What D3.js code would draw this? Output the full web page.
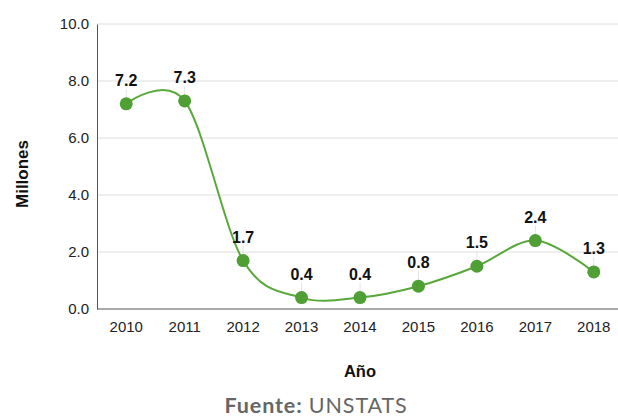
<!DOCTYPE html>
<html><head><meta charset="utf-8">
<script src="https://cdn.jsdelivr.net/npm/d3@7"></script>
<style>body{margin:0;background:#fff}svg{display:block}</style>
</head><body>
<script>
const years = ["2010","2011","2012","2013","2014","2015","2016","2017","2018"];
const values = [7.2, 7.3, 1.7, 0.4, 0.4, 0.8, 1.5, 2.4, 1.3];
const yTicks = [0, 2, 4, 6, 8, 10];

const W = 618, H = 420;
const FONT = "Liberation Sans, Arial, sans-serif";
const svg = d3.select("body").append("svg").attr("width", W).attr("height", H);
const x = d3.scaleBand().domain(years).range([97, 623]);
const y = d3.scaleLinear().domain([0, 10]).range([309, 24]);
const green = "#4f9f35";

// grid
svg.append("g").selectAll("line").data(yTicks.filter(d => d > 0)).join("line")
  .attr("x1", 97).attr("x2", W).attr("y1", d => y(d)).attr("y2", d => y(d))
  .attr("stroke", "#dedede").attr("stroke-width", 1);

// axes
const yAxis = svg.append("g").attr("transform", "translate(97,0)")
  .call(d3.axisLeft(y).tickValues(yTicks).tickFormat(d3.format(".1f")).tickSize(0).tickPadding(8));
yAxis.select(".domain").attr("stroke", "#555");
yAxis.selectAll("text").attr("font-family", FONT).attr("font-size", 15).attr("fill", "#222");

const xAxis = svg.append("g").attr("transform", "translate(0,309)")
  .call(d3.axisBottom(x).tickSize(0).tickPadding(12));
xAxis.select(".domain").attr("stroke", "#555").attr("d", "M97,0H" + W);
xAxis.selectAll("text").attr("font-family", FONT).attr("font-size", 15).attr("fill", "#222");

// line
const cx = d => x(d) + x.bandwidth() / 2;
const pts = years.map((yr, i) => [cx(yr), y(values[i])]);
svg.append("path").datum(pts)
  .attr("d", d3.line().curve(d3.curveCatmullRom.alpha(0)))
  .attr("fill", "none").attr("stroke", "#5aa83c").attr("stroke-width", 2);

// leader lines
svg.append("g").selectAll("line").data(years).join("line")
  .attr("x1", d => cx(d)).attr("x2", d => cx(d))
  .attr("y1", (d, i) => y(values[i]) - 15).attr("y2", (d, i) => y(values[i]) - 5)
  .attr("stroke", "#e4e4e4").attr("stroke-width", 1);

// points
svg.append("g").selectAll("circle").data(years).join("circle")
  .attr("cx", d => cx(d)).attr("cy", (d, i) => y(values[i])).attr("r", 6.5)
  .attr("fill", green);

// labels
svg.append("g").selectAll("text").data(years).join("text")
  .attr("x", d => cx(d)).attr("y", (d, i) => y(values[i]) - 18)
  .attr("text-anchor", "middle").attr("font-family", FONT)
  .attr("font-size", 16).attr("font-weight", "bold").attr("fill", "#111")
  .text((d, i) => values[i].toFixed(1));

// axis titles
svg.append("text").attr("transform", "translate(28,174) rotate(-90)")
  .attr("text-anchor", "middle").attr("font-family", FONT)
  .attr("font-size", 17).attr("font-weight", "bold").attr("fill", "#111").text("Millones");
svg.append("text").attr("x", 360).attr("y", 377)
  .attr("text-anchor", "middle").attr("font-family", FONT)
  .attr("font-size", 16.5).attr("font-weight", "bold").attr("fill", "#111").text("Año");

const src = svg.append("text").attr("x", 316).attr("y", 413).attr("text-anchor", "middle")
  .attr("font-family", "Lato, Open Sans, sans-serif").attr("font-size", 21.5)
  .attr("letter-spacing", 0.9).attr("fill", "#666");
src.append("tspan").attr("font-weight", "bold").text("Fuente: ");
src.append("tspan").text("UNSTATS");
</script>
</body></html>
